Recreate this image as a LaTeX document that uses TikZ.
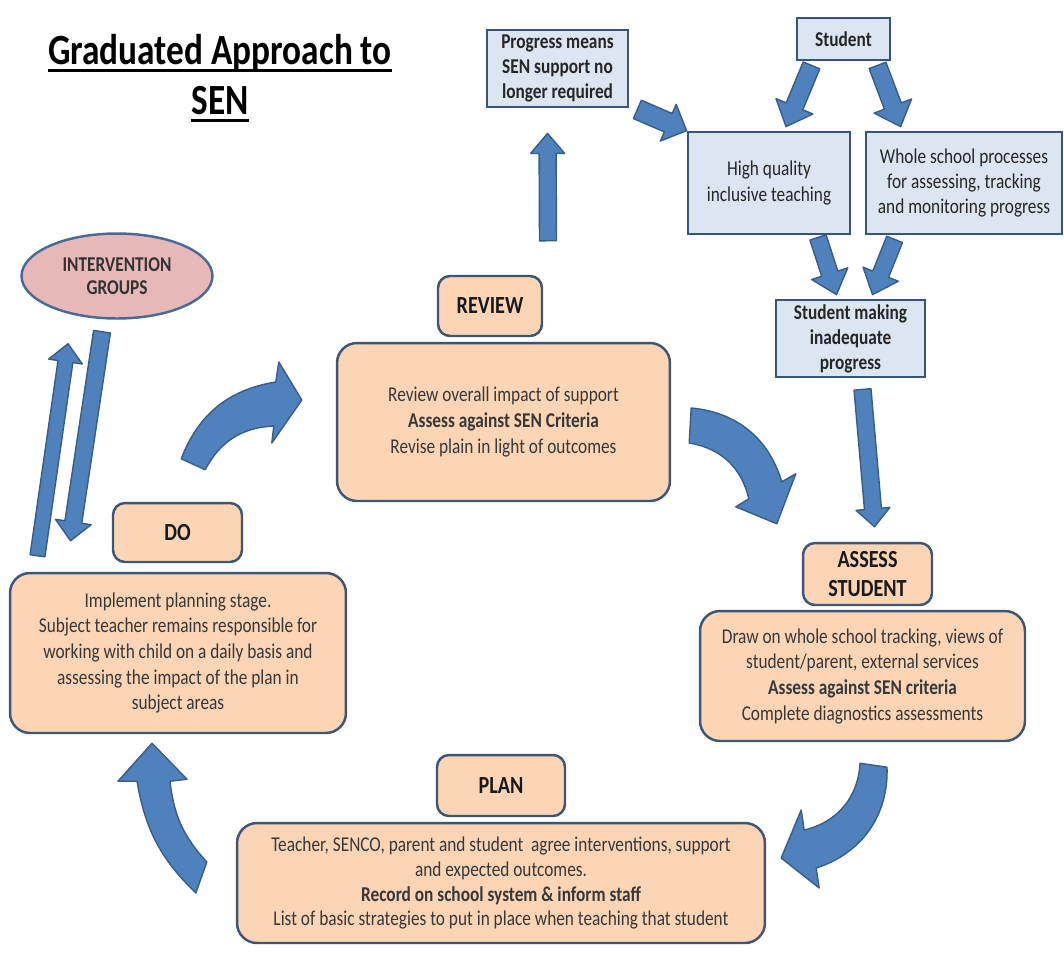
\documentclass[tikz,border=0pt]{standalone}
\usepackage{fontspec}
\setmainfont{Carlito}[FakeStretch=0.82]
\usepackage{tikz}
\usetikzlibrary{calc, shapes.geometric}

\definecolor{arrowblue}{HTML}{4F81BD}
\definecolor{arrowline}{HTML}{385D8A}
\definecolor{bluefill}{HTML}{DCE6F2}
\definecolor{blueline}{HTML}{36547C}
\definecolor{peachfill}{HTML}{FBD5B5}
\definecolor{peachline}{HTML}{3F5575}
\definecolor{pinkfill}{HTML}{E6B9B8}
\definecolor{ellipseline}{HTML}{4A6A96}

% thick underline for the heading
\newcommand{\titleline}[1]{\setbox0=\hbox{#1}\rlap{\rule[-4.2pt]{\wd0}{1.7pt}}\box0}

% straight block arrow: start, end, half shaft, half head, head length
\newcommand{\fatarrow}[5]{%
  \path (#1) coordinate (fa-s) (#2) coordinate (fa-e);
  \path ($(fa-e)!#5!(fa-s)$) coordinate (fa-h);
  \draw[blockarrow] ($(fa-s)!#3!90:(fa-e)$) -- ($(fa-h)!#3!-90:(fa-s)$) -- ($(fa-h)!#4!-90:(fa-s)$)
    -- (fa-e) -- ($(fa-h)!#4!90:(fa-s)$) -- ($(fa-h)!#3!90:(fa-s)$) -- ($(fa-s)!#3!-90:(fa-e)$) -- cycle;
}

\tikzset{
  bluebox/.style={draw=blueline, fill=bluefill, line width=1.6pt, align=center, inner sep=1pt, text=black!85},
  stagebox/.style={draw=peachline, fill=peachfill, line width=1.4pt, rounded corners=0.24cm,
    align=center, font=\bfseries\fontsize{14}{17}\selectfont, text=black!90},
  notebox/.style={draw=peachline, fill=peachfill, line width=1.4pt, rounded corners=0.4cm,
    align=center, font=\fontsize{12}{14.6}\selectfont, text=black!78},
  blockarrow/.style={draw=arrowline, fill=arrowblue, line width=0.8pt, line join=round},
}

\begin{document}
\begin{tikzpicture}[x=0.02cm, y=-0.02cm]
  \path[use as bounding box, fill=white] (0,0) rectangle (1064,958);

  \node[align=center, font=\bfseries\fontsize{24.5}{28.4}\selectfont] (title) at (220,78)
    {\titleline{Graduated Approach to}\\\titleline{SEN}};

  % entry boxes
  \node[bluebox, font=\bfseries\fontsize{12}{14.2}\selectfont, minimum width=2.82cm, minimum height=1.54cm]
    (prog) at (557.5,68.5) {Progress means\\SEN support no\\longer required};
  \node[bluebox, font=\bfseries\fontsize{12}{14}\selectfont, minimum width=1.86cm, minimum height=0.84cm]
    (student) at (843.5,39) {Student};
  \node[bluebox, font=\fontsize{12}{14.4}\selectfont, minimum width=3.24cm, minimum height=2.04cm]
    (hqt) at (769,183) {High quality\\inclusive teaching};
  \node[bluebox, font=\fontsize{12}{14.4}\selectfont, minimum width=3.92cm, minimum height=2.04cm]
    (whole) at (964,183) {Whole school processes\\for assessing, tracking\\and monitoring progress};
  \node[bluebox, font=\bfseries\fontsize{12}{14.2}\selectfont, minimum width=2.98cm, minimum height=1.54cm]
    (making) at (850.5,338.5) {Student making\\inadequate\\progress};

  \node[ellipse, draw=ellipseline, fill=pinkfill, line width=1.4pt, minimum width=3.82cm, minimum height=1.7cm,
    align=center, font=\bfseries\fontsize{12}{13}\selectfont, text=black!80]
    (interv) at (117,276) {INTERVENTION\\GROUPS};

  % the cycle
  \node[stagebox, minimum width=2.08cm, minimum height=1.2cm] (revlbl) at (490,306) {REVIEW};
  \node[notebox, minimum width=6.66cm, minimum height=3.16cm] (revbody) at (503.5,422)
    {Review overall impact of support\\\textbf{Assess against SEN Criteria}\\Revise plain in light of outcomes};
  \node[stagebox, minimum width=2.58cm, minimum height=1.18cm] (dolbl) at (177.5,532.5) {DO};
  \node[notebox, minimum width=6.72cm, minimum height=3.2cm] (dobody) at (178,653)
    {Implement planning stage.\\Subject teacher remains responsible for\\working with child on a daily basis and\\assessing the impact of the plan in\\subject areas};
  \node[stagebox, minimum width=2.58cm, minimum height=1.24cm] (asslbl) at (867.5,574) {ASSESS\\STUDENT};
  \node[notebox, minimum width=6.5cm, minimum height=2.6cm] (assbody) at (862.5,676)
    {Draw on whole school tracking, views of\\student/parent, external services\\\textbf{Assess against SEN criteria}\\Complete diagnostics assessments};
  \node[stagebox, minimum width=2.56cm, minimum height=1.22cm] (planlbl) at (501,785.5) {PLAN};
  \node[notebox, font=\fontsize{12}{14.2}\selectfont, minimum width=10.56cm, minimum height=2.4cm] (planbody) at (501,883)
    {Teacher, SENCO, parent and student\ \ agree interventions, support\\and expected outcomes.\\\textbf{Record on school system \& inform staff}\\List of basic strategies to put in place when teaching that student};

  % straight arrows
  \fatarrow{$(revlbl.north)+(58,-34)$}{$(prog.south)+(-10,25)$}{0.17cm}{0.34cm}{0.4cm}
  \fatarrow{$(prog.south east)+(8,1)$}{hqt.north west}{0.2cm}{0.4cm}{0.4cm}
  \fatarrow{$(student.south)+(-32,4)$}{$(hqt.north)+(17,-4)$}{0.18cm}{0.4cm}{0.44cm}
  \fatarrow{$(student.south)+(34,4)$}{$(whole.north west)+(36,-4)$}{0.18cm}{0.4cm}{0.44cm}
  \fatarrow{$(hqt.south)+(49,2)$}{$(making.north)+(-14,-4)$}{0.17cm}{0.38cm}{0.44cm}
  \fatarrow{$(whole.south west)+(30,4)$}{$(making.north)+(22,-4)$}{0.17cm}{0.38cm}{0.44cm}
  \fatarrow{$(making.south)+(12,11)$}{$(asslbl.north)+(7,-15)$}{0.17cm}{0.34cm}{0.36cm}
  \fatarrow{$(dolbl.north)+(-140,54)$}{$(interv.south)+(-49,24)$}{0.15cm}{0.34cm}{0.36cm}
  \fatarrow{$(interv.south)+(-15,12)$}{$(dolbl.north)+(-107,39)$}{0.17cm}{0.36cm}{0.38cm}

  % curved arrows round the cycle
  \coordinate (doS) at ($(dolbl.north east)+(-50,-38)$);
  \coordinate (revT) at ($(revbody.west)+(-34,-22)$);
  \draw[blockarrow] ($(doS)+(-12,-5)$) to[bend left=30] ($(revT)+(-26,-18)$) -- ($(revT)+(-23,-38)$)
    -- (revT) -- ($(revT)+(-30,43)$) -- ($(revT)+(-28,26)$) to[bend right=30] ($(doS)+(12,6)$) -- cycle;

  \coordinate (revS) at ($(revbody.east)+(19,3.5)$);
  \coordinate (assT) at ($(asslbl.north west)+(-25,-18)$);
  \draw[blockarrow] ($(revS)+(1,-17.5)$) to[bend left=34] ($(assT)+(5,-42)$) -- ($(assT)+(19,-50)$)
    -- (assT) -- ($(assT)+(-41,-17)$) -- ($(assT)+(-28,-25)$) to[bend right=34] ($(revS)+(-1,17.5)$) -- cycle;

  \coordinate (assS) at ($(assbody.south)+(11,23)$);
  \coordinate (planT) at ($(planbody.east)+(15,-25)$);
  \draw[blockarrow] ($(assS)+(13.5,2)$) to[bend left=37] ($(planT)+(35,10)$) -- ($(planT)+(38,30)$)
    -- (planT) -- ($(planT)+(20,-48)$) -- ($(planT)+(23,-28)$) to[bend right=37] ($(assS)+(-13.5,-2)$) -- cycle;

  \coordinate (planS) at ($(planbody.west)+(-34.5,-5.5)$);
  \coordinate (doT) at ($(dobody.south)+(-26,9)$);
  \draw[blockarrow] ($(planS)+(-5.5,15.5)$) to[bend left=18] ($(doT)+(-15,38)$) -- ($(doT)+(-34,38)$)
    -- (doT) -- ($(doT)+(35,36)$) -- ($(doT)+(18,38)$) to[bend right=18] ($(planS)+(5.5,-15.5)$) -- cycle;
\end{tikzpicture}
\end{document}
